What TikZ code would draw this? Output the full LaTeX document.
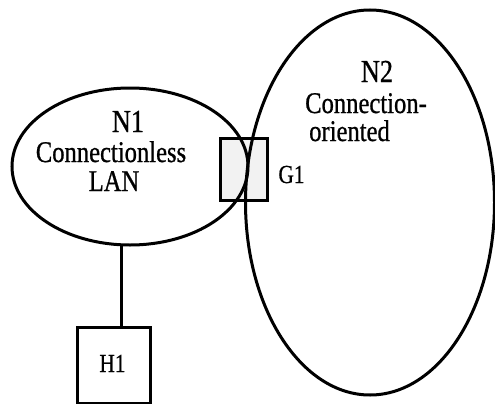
\documentclass[tikz,border=0pt]{standalone}
\usepackage{fontspec}
\setmainfont{Liberation Serif}
\newfontfamily\condserif[FakeStretch=0.82,FakeBold=0.8]{Liberation Serif}
\usetikzlibrary{shapes.geometric}
\begin{document}
\begin{tikzpicture}[x=1pt,y=-1pt,
  net/.style={ellipse,draw,line width=3pt,inner sep=0pt,outer sep=0pt},
  boxnode/.style={rectangle,draw,line width=3pt,inner sep=0pt,outer sep=0pt},
  big/.style={font=\condserif\fontsize{32}{32}\selectfont,anchor=base,inner sep=0pt,text depth=0pt},
  mid/.style={font=\condserif\fontsize{30}{30}\selectfont,anchor=base,inner sep=0pt},
  small/.style={font=\condserif\fontsize{26}{26}\selectfont,anchor=base,inner sep=0pt},
  link/.style={line width=3pt}]
\useasboundingbox (0,0) rectangle (495,404);
% gateway fill underneath
\node[rectangle,fill=gray!10,minimum width=47pt,minimum height=62pt,inner sep=0pt] (G1fill) at (243.5,169) {};
\node[net,minimum width=236pt,minimum height=157pt] (N1) at (130,166.5) {};
\node[net,minimum width=249pt,minimum height=385pt] (N2) at (370,202.5) {};
\node[boxnode,minimum width=47pt,minimum height=62pt] (G1) at (243.5,169) {};
\node[boxnode,minimum width=73pt,minimum height=76pt] (H1) at (113.5,365) {};
\draw[link] ([xshift=7.5pt]H1.north) -- ([xshift=7.5pt]H1.north |- N1.south);
% labels
\node[big] (tN1) at (128,132) {N1};
\node[mid] (tCl) at (111,162) {Connectionless};
\node[mid] (tLAN) at (114,191) {LAN};
\node[big] (tN2) at (377,82) {N2};
\node[mid] (tCo) at (366,113) {Connection-};
\node[mid,anchor=base west] (tOr) at (309,141) {oriented};
\node[small] (tG1) at (291.5,183) {G1};
\node[small] (tH1) at (112.5,372) {H1};
\end{tikzpicture}
\end{document}
